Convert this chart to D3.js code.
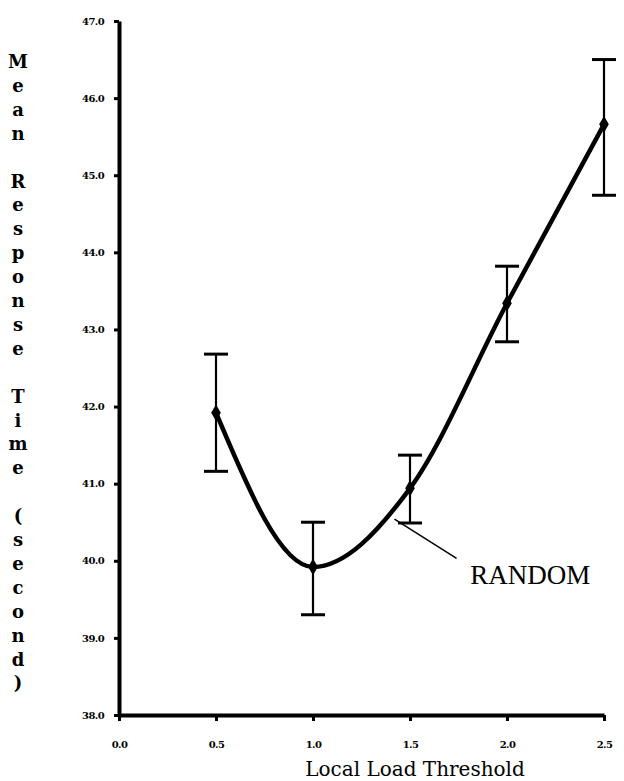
<!DOCTYPE html>
<html>
<head>
<meta charset="utf-8">
<script src="https://cdn.jsdelivr.net/npm/d3@7"></script>
<style>
  html, body { margin: 0; padding: 0; background: #fff; }
  svg { display: block; }
</style>
</head>
<body>
<div id="chart"></div>
<script>
// ---- data ----
const thresholds = [0.5, 1.0, 1.5, 2.0, 2.5];
const meanResponse = [41.92, 39.92, 40.94, 43.34, 45.66];
const errLow = [41.16, 39.30, 40.49, 42.84, 44.74];
const errHigh = [42.68, 40.50, 41.37, 43.82, 46.50];
const xTickValues = [0.0, 0.5, 1.0, 1.5, 2.0, 2.5];
const yTickValues = [38, 39, 40, 41, 42, 43, 44, 45, 46, 47];
const seriesLabel = "RANDOM";
const xTitle = "Local Load Threshold";
const yTitleWords = ["Mean", "Response", "Time", "(second)"];
// annotation anchor (data space): leader start, leader end, text position
const annoStart = [1.42, 40.54];
const annoEnd = [1.74, 40.03];
const annoText = [1.81, 39.70];

const W = 624, H = 781;
const svg = d3.select("#chart").append("svg").attr("width", W).attr("height", H);

const x = d3.scaleLinear().domain([0, 2.5]).range([119, 604]);
const y = d3.scaleLinear().domain([38, 47]).range([715, 21]);

const serif = "'DejaVu Serif', 'Liberation Serif', serif";

// y axis
const yAxis = d3.axisLeft(y).tickValues(yTickValues).tickFormat(d3.format(".1f"))
  .tickSize(5).tickSizeOuter(0).tickPadding(10);
const gy = svg.append("g").attr("transform", `translate(${x(0)},0)`).call(yAxis);
gy.select(".domain").attr("stroke", "#000").attr("stroke-width", 4);
gy.selectAll(".tick line").attr("stroke", "#000").attr("stroke-width", 3);
gy.selectAll(".tick text").attr("font-family", serif).attr("font-weight", "bold")
  .attr("font-size", 10).attr("fill", "#000").attr("letter-spacing", "-0.6");

// x axis
const xAxis = d3.axisBottom(x).tickValues(xTickValues).tickFormat(d3.format(".1f"))
  .tickSize(6).tickSizeOuter(0).tickPadding(20);
const gx = svg.append("g").attr("transform", `translate(0,${y(38)})`).call(xAxis);
gx.select(".domain").attr("stroke", "#000").attr("stroke-width", 4);
gx.selectAll(".tick line").attr("stroke", "#000").attr("stroke-width", 3);
gx.selectAll(".tick text").attr("font-family", serif).attr("font-weight", "bold")
  .attr("font-size", 10).attr("fill", "#000").attr("letter-spacing", "-0.6");

// x title
svg.append("text").attr("x", (x(0.5) + x(2.5)) / 2 + 5).attr("y", 776)
  .attr("text-anchor", "middle").attr("font-family", serif).attr("font-size", 20)
  .attr("fill", "#000").text(xTitle);

// y title: stacked letters, one per line, blank line between words
const yt = svg.append("text").attr("font-family", serif).attr("font-weight", "bold")
  .attr("font-size", 18).attr("fill", "#000").attr("text-anchor", "middle");
const step = 23.9;
let ly = 68;
yTitleWords.forEach((w, wi) => {
  if (wi > 0) ly += step;
  [...w].forEach((ch) => {
    yt.append("tspan").attr("x", 18).attr("y", ly).text(ch);
    ly += step;
  });
});

const pts = thresholds.map((t, i) => ({ t, m: meanResponse[i], lo: errLow[i], hi: errHigh[i] }));

// error bars
const eb = svg.append("g").attr("stroke", "#000");
eb.selectAll("line.v").data(pts).join("line").attr("class", "v")
  .attr("x1", d => x(d.t)).attr("x2", d => x(d.t))
  .attr("y1", d => y(d.lo)).attr("y2", d => y(d.hi)).attr("stroke-width", 2.2);
eb.selectAll("line.top").data(pts).join("line").attr("class", "top")
  .attr("x1", d => x(d.t) - 12).attr("x2", d => x(d.t) + 12)
  .attr("y1", d => y(d.hi)).attr("y2", d => y(d.hi)).attr("stroke-width", 3);
eb.selectAll("line.bot").data(pts).join("line").attr("class", "bot")
  .attr("x1", d => x(d.t) - 12).attr("x2", d => x(d.t) + 12)
  .attr("y1", d => y(d.lo)).attr("y2", d => y(d.lo)).attr("stroke-width", 3);

// curve
const line = d3.line().x(d => x(d.t)).y(d => y(d.m)).curve(d3.curveMonotoneX);
svg.append("path").datum(pts).attr("d", line).attr("fill", "none")
  .attr("stroke", "#000").attr("stroke-width", 4.5).attr("stroke-linecap", "round");

// markers
svg.append("g").selectAll("path").data(pts).join("path")
  .attr("transform", d => `translate(${x(d.t)},${y(d.m)})`)
  .attr("d", d3.symbol(d3.symbolDiamond, 80)).attr("fill", "#000");

// annotation
svg.append("line").attr("x1", x(annoStart[0])).attr("y1", y(annoStart[1]))
  .attr("x2", x(annoEnd[0])).attr("y2", y(annoEnd[1]))
  .attr("stroke", "#000").attr("stroke-width", 1.5);
svg.append("text").attr("x", x(annoText[0])).attr("y", y(annoText[1]))
  .attr("font-family", "'Liberation Serif', 'DejaVu Serif', serif").attr("font-size", 27)
  .attr("fill", "#000").text(seriesLabel);
</script>
</body>
</html>
